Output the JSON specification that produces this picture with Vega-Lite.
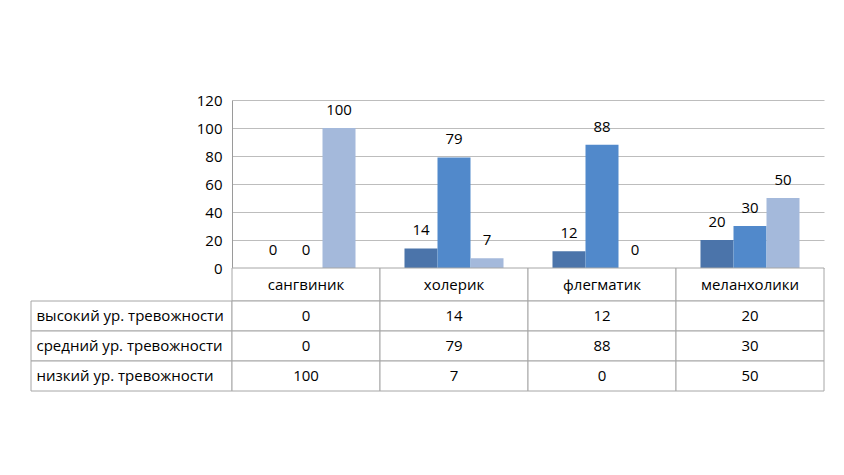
{
  "$schema": "https://vega.github.io/schema/vega-lite/v6.json",
  "background": "white",
  "padding": {"left": 30, "top": 93, "right": 0, "bottom": 0},
  "columns": 2,
  "spacing": 0,
  "bounds": "flush",
  "datasets": {
    "d": [
      {"cat": "сангвиник", "series": "высокий ур. тревожности", "value": 0},
      {"cat": "сангвиник", "series": "средний ур. тревожности", "value": 0},
      {"cat": "сангвиник", "series": "низкий ур. тревожности", "value": 100},
      {"cat": "холерик", "series": "высокий ур. тревожности", "value": 14},
      {"cat": "холерик", "series": "средний ур. тревожности", "value": 79},
      {"cat": "холерик", "series": "низкий ур. тревожности", "value": 7},
      {"cat": "флегматик", "series": "высокий ур. тревожности", "value": 12},
      {"cat": "флегматик", "series": "средний ур. тревожности", "value": 88},
      {"cat": "флегматик", "series": "низкий ур. тревожности", "value": 0},
      {"cat": "меланхолики", "series": "высокий ур. тревожности", "value": 20},
      {"cat": "меланхолики", "series": "средний ур. тревожности", "value": 30},
      {"cat": "меланхолики", "series": "низкий ур. тревожности", "value": 50}
    ],
    "cats": [
      {"cat": "сангвиник"},
      {"cat": "холерик"},
      {"cat": "флегматик"},
      {"cat": "меланхолики"}
    ],
    "series": [
      {"series": "высокий ур. тревожности"},
      {"series": "средний ур. тревожности"},
      {"series": "низкий ур. тревожности"}
    ]
  },
  "concat": [
    {
      "width": 201,
      "height": 168,
      "data": {"values": [{}]},
      "mark": {"type": "text"},
      "encoding": {"text": {"value": ""}}
    },
    {
      "width": 592,
      "height": 168,
      "data": {"name": "d"},
      "encoding": {
        "x": {"field": "cat", "type": "nominal", "sort": ["сангвиник", "холерик", "флегматик", "меланхолики"], "scale": {"paddingInner": 0, "paddingOuter": 0}, "axis": null},
        "xOffset": {"field": "series", "type": "nominal", "sort": ["высокий ур. тревожности", "средний ур. тревожности", "низкий ур. тревожности"], "scale": {"paddingInner": 0, "paddingOuter": 0.742}},
        "y": {"field": "value", "type": "quantitative", "scale": {"domain": [0, 120]},
          "axis": {"values": [0, 20, 40, 60, 80, 100, 120], "title": null, "grid": true, "gridColor": "#bdbdbd", "domainColor": "#9a9a9a", "ticks": false, "labelPadding": 10, "labelFontSize": 15, "labelColor": "#000000", "labelFont": "Open Sans"}}
      },
      "layer": [
        {
          "mark": {"type": "bar"},
          "encoding": {
            "color": {"field": "series", "type": "nominal", "scale": {"domain": ["высокий ур. тревожности", "средний ур. тревожности", "низкий ур. тревожности"], "range": ["#4b74aa", "#5189cb", "#a4b9db"]}, "legend": null}
          }
        },
        {
          "mark": {"type": "text", "dy": -18, "baseline": "middle", "font": "Open Sans", "fontSize": 15, "color": "#000000"},
          "encoding": {"text": {"field": "value", "type": "quantitative"}}
        }
      ]
    },
    {
      "width": 201,
      "height": 33,
      "data": {"values": [{}]},
      "mark": {"type": "text"},
      "encoding": {"text": {"value": ""}}
    },
    {
      "width": 592,
      "height": 33,
      "data": {"name": "cats"},
      "encoding": {
        "x": {"field": "cat", "type": "nominal", "sort": ["сангвиник", "холерик", "флегматик", "меланхолики"], "scale": {"paddingInner": 0, "paddingOuter": 0}, "axis": null}
      },
      "layer": [
        {"mark": {"type": "rect", "fill": "#ffffff", "stroke": "#a6a6a6", "strokeWidth": 1}},
        {"mark": {"type": "text", "baseline": "middle", "font": "Open Sans", "fontSize": 15, "color": "#000000"}, "encoding": {"text": {"field": "cat"}}}
      ]
    },
    {
      "width": 201,
      "height": 90,
      "data": {"name": "series"},
      "mark": {"type": "rect", "fill": "#ffffff", "stroke": "#a6a6a6", "strokeWidth": 1},
      "encoding": {
        "y": {"field": "series", "type": "nominal", "sort": ["высокий ур. тревожности", "средний ур. тревожности", "низкий ур. тревожности"], "scale": {"paddingInner": 0, "paddingOuter": 0}, "axis": null}
      }
    },
    {
      "width": 592,
      "height": 90,
      "data": {"name": "d"},
      "encoding": {
        "x": {"field": "cat", "type": "nominal", "sort": ["сангвиник", "холерик", "флегматик", "меланхолики"], "scale": {"paddingInner": 0, "paddingOuter": 0}, "axis": null},
        "y": {"field": "series", "type": "nominal", "sort": ["высокий ур. тревожности", "средний ур. тревожности", "низкий ур. тревожности"], "scale": {"paddingInner": 0, "paddingOuter": 0},
          "axis": {"title": null, "domain": false, "ticks": false, "labelAlign": "left", "labelPadding": 196, "labelFontSize": 15, "labelFont": "Open Sans", "labelColor": "#000000", "labelLimit": 0}}
      },
      "layer": [
        {"mark": {"type": "rect", "fill": "#ffffff", "stroke": "#a6a6a6", "strokeWidth": 1}},
        {"mark": {"type": "text", "baseline": "middle", "font": "Open Sans", "fontSize": 15, "color": "#000000"}, "encoding": {"text": {"field": "value", "type": "quantitative"}}}
      ]
    }
  ],
  "config": {
    "view": {"stroke": null},
    "font": "Open Sans"
  }
}
